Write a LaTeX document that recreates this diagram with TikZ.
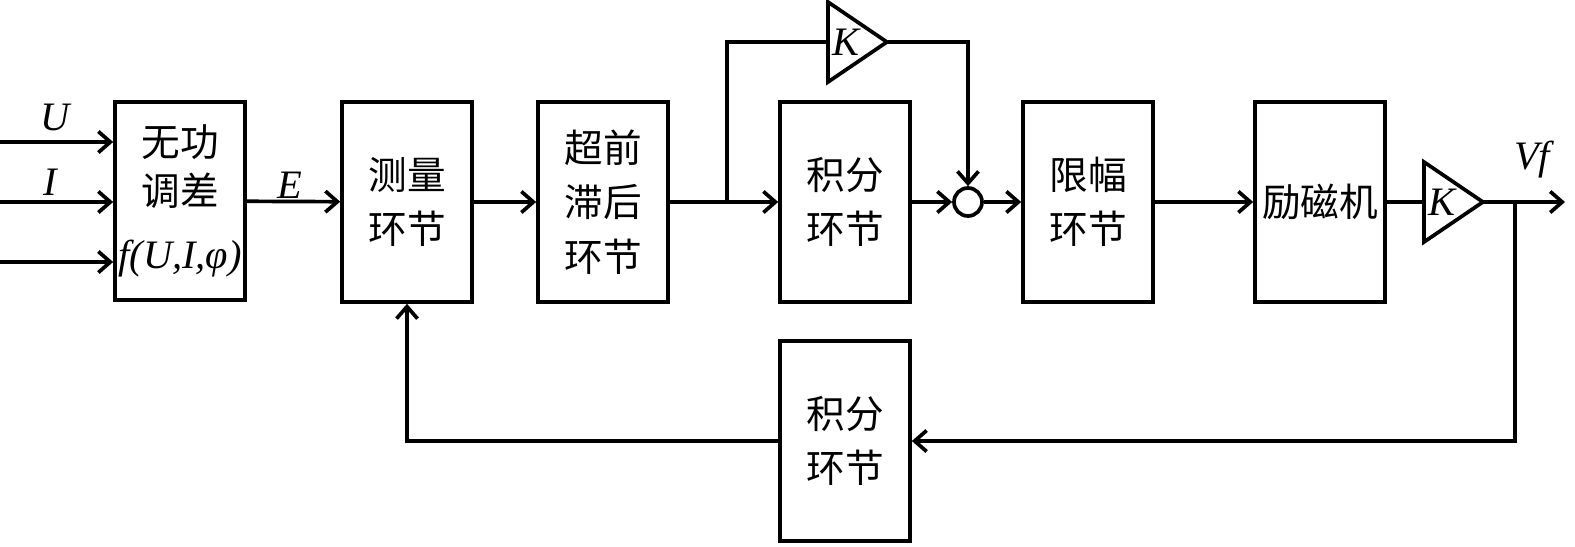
\documentclass[tikz,border=0pt]{standalone}
\usepackage{fontspec}
\setmainfont{Liberation Serif}
\newfontfamily\cjk{Noto Sans CJK SC}
\usetikzlibrary{arrows.meta,shapes.geometric}
\tikzset{
  wire/.style={line width=2.1pt},
  blk/.style={draw,wire,minimum width=2.6cm,minimum height=4cm,inner sep=0pt,align=center,
    font=\cjk\fontsize{22}{31}\selectfont},
  amp/.style={draw,wire,isosceles triangle,isosceles triangle stretches,
    minimum width=1.6cm,minimum height=1.16cm,inner sep=0pt,outer sep=0pt,
    font=\itshape\fontsize{23}{23}\selectfont},
  sig/.style={font=\itshape\fontsize{23}{23}\selectfont},
  >={Straight Barb[length=2.4mm,width=4.2mm]}
}
\begin{document}
\begin{tikzpicture}[x=0.02cm,y=-0.02cm]
\useasboundingbox (0,0) rectangle (1575,547);

% blocks
\node[blk,minimum height=3.96cm,font=\cjk\fontsize{22}{28}\selectfont] (tc) at (180,201)
  {无功\\调差\\[8pt]{\rmfamily\itshape\fontsize{23}{23}\selectfont f(U,I,φ)}};
\node[blk] (cl) at (407,202) {测量\\环节};
\node[blk] (cq) at (603,202) {超前\\滞后\\环节};
\node[blk] (jf) at (845,202) {积分\\环节};
\node[blk] (xf) at (1088,202) {限幅\\环节};
\node[blk] (lc) at (1320,202) {励磁机};
\node[blk] (jf2) at (845,441) {积分\\环节};

% gains and sum point
\node[amp,anchor=west] (k1) at (828,42) {K};
\node[amp,anchor=west] (k2) at (1424,202) {K};
\node[draw,wire,circle,minimum size=0.56cm,inner sep=0pt] (sum) at (968,202) {};

\coordinate (iu) at (0,142);
\coordinate (ii) at (0,202);
\coordinate (ip) at (0,262);
\coordinate (ja) at (727,202);
\coordinate (jb) at (1515,202);
\coordinate (out) at (1565,202);

% signal labels
\node[sig] (lu) at (55,117) {U};
\node[sig] (li) at (50,182) {I};
\node[sig] (le) at (290,185) {E};
\node[sig] (lv) at (1532,160) {Vf};

% connections
\draw[wire,->] (iu) -- (iu -| tc.west);
\draw[wire,->] (ii) -- (ii -| tc.west);
\draw[wire,->] (ip) -- (ip -| tc.west);
\draw[wire,->] (tc) -- (cl);
\draw[wire,->] (cl) -- (cq);
\draw[wire,->] (cq) -- (jf);
\draw[wire] (ja) |- (k1.west);
\draw[wire,->] (k1.apex) -| (sum.north);
\draw[wire,->] (jf) -- (sum);
\draw[wire,->] (sum) -- (xf);
\draw[wire,->] (xf) -- (lc);
\draw[wire] (lc) -- (k2.west);
\draw[wire,->] (k2.apex) -- (out);
\draw[wire,->] (jb) |- (jf2.east);
\draw[wire,->] (jf2.west) -| (cl.south);
\end{tikzpicture}
\end{document}
